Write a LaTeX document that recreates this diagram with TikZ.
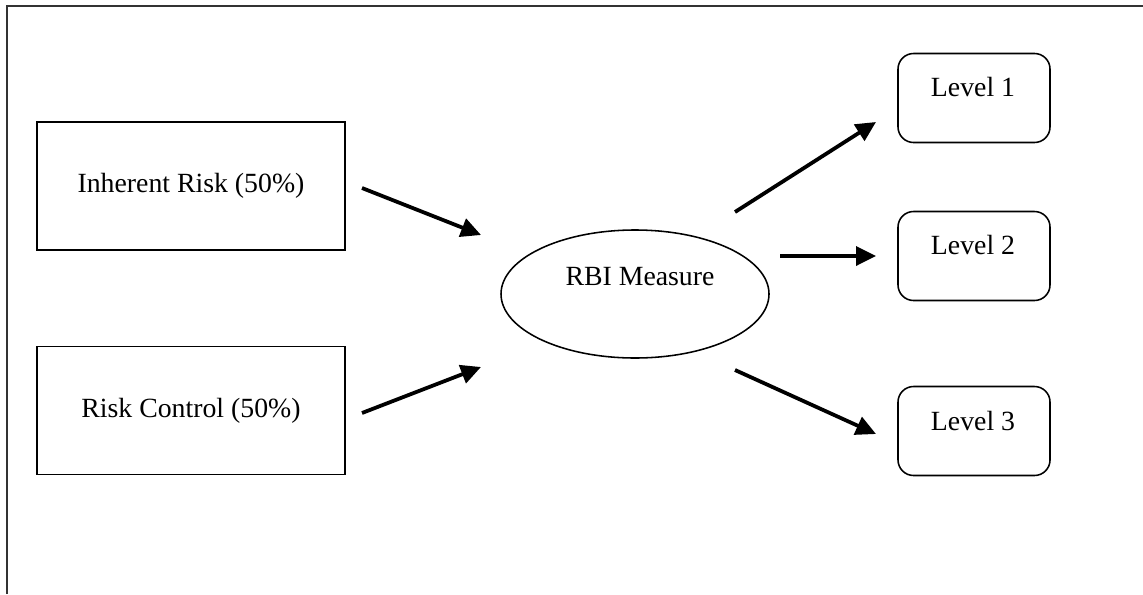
\documentclass[tikz,border=0pt]{standalone}
\usepackage{fontspec}
\setmainfont{Liberation Serif}
\usetikzlibrary{arrows.meta,shapes.geometric}
\begin{document}
\begin{tikzpicture}[x=0.45pt,y=-0.45pt,
  every node/.style={font=\fontsize{12.5}{15}\selectfont},
  sqbox/.style={draw,line width=0.7pt,minimum width=308*0.45pt,minimum height=128*0.45pt,inner sep=0pt},
  lvbox/.style={draw,line width=0.7pt,rounded corners=7pt,minimum width=152*0.45pt,minimum height=89*0.45pt,inner sep=0pt},
  oval/.style={draw,ellipse,line width=0.7pt,minimum width=268*0.45pt,minimum height=128*0.45pt,inner sep=0pt},
  bigarrow/.style={line width=1.7pt,-{Triangle[length=9pt,width=8.5pt]}},
  frame/.style={line width=1pt,draw=black!80}]
\useasboundingbox (0,0) rectangle (1143,594);
\draw[frame] (7,594) -- (7,6) -- (1143,6);
\node[sqbox] (ir) at (191,186) {Inherent Risk (50\%)};
\node[sqbox] (rc) at (191,410.5) {Risk Control (50\%)};
\node[oval] (rbi) at (635,294) {};
\node (rbit) at (640,277) {RBI Measure};
\node[lvbox] (l1) at (974,98) {};
\node (l1t) at (973,87) {Level 1};
\node[lvbox] (l2) at (974,256) {};
\node (l2t) at (973,245) {Level 2};
\node[lvbox] (l3) at (974,431) {};
\node (l3t) at (973,421) {Level 3};
\coordinate (a1s) at (362,188); \coordinate (a1e) at (481,235);
\coordinate (a2s) at (362,413); \coordinate (a2e) at (481,367);
\coordinate (a3s) at (735,212); \coordinate (a3e) at (876,122);
\coordinate (a4s) at (780,256); \coordinate (a4e) at (876,256);
\coordinate (a5s) at (735,370); \coordinate (a5e) at (876,434);
\draw[bigarrow] (a1s) -- (a1e);
\draw[bigarrow] (a2s) -- (a2e);
\draw[bigarrow] (a3s) -- (a3e);
\draw[bigarrow] (a4s) -- (a4e);
\draw[bigarrow] (a5s) -- (a5e);
\end{tikzpicture}
\end{document}
